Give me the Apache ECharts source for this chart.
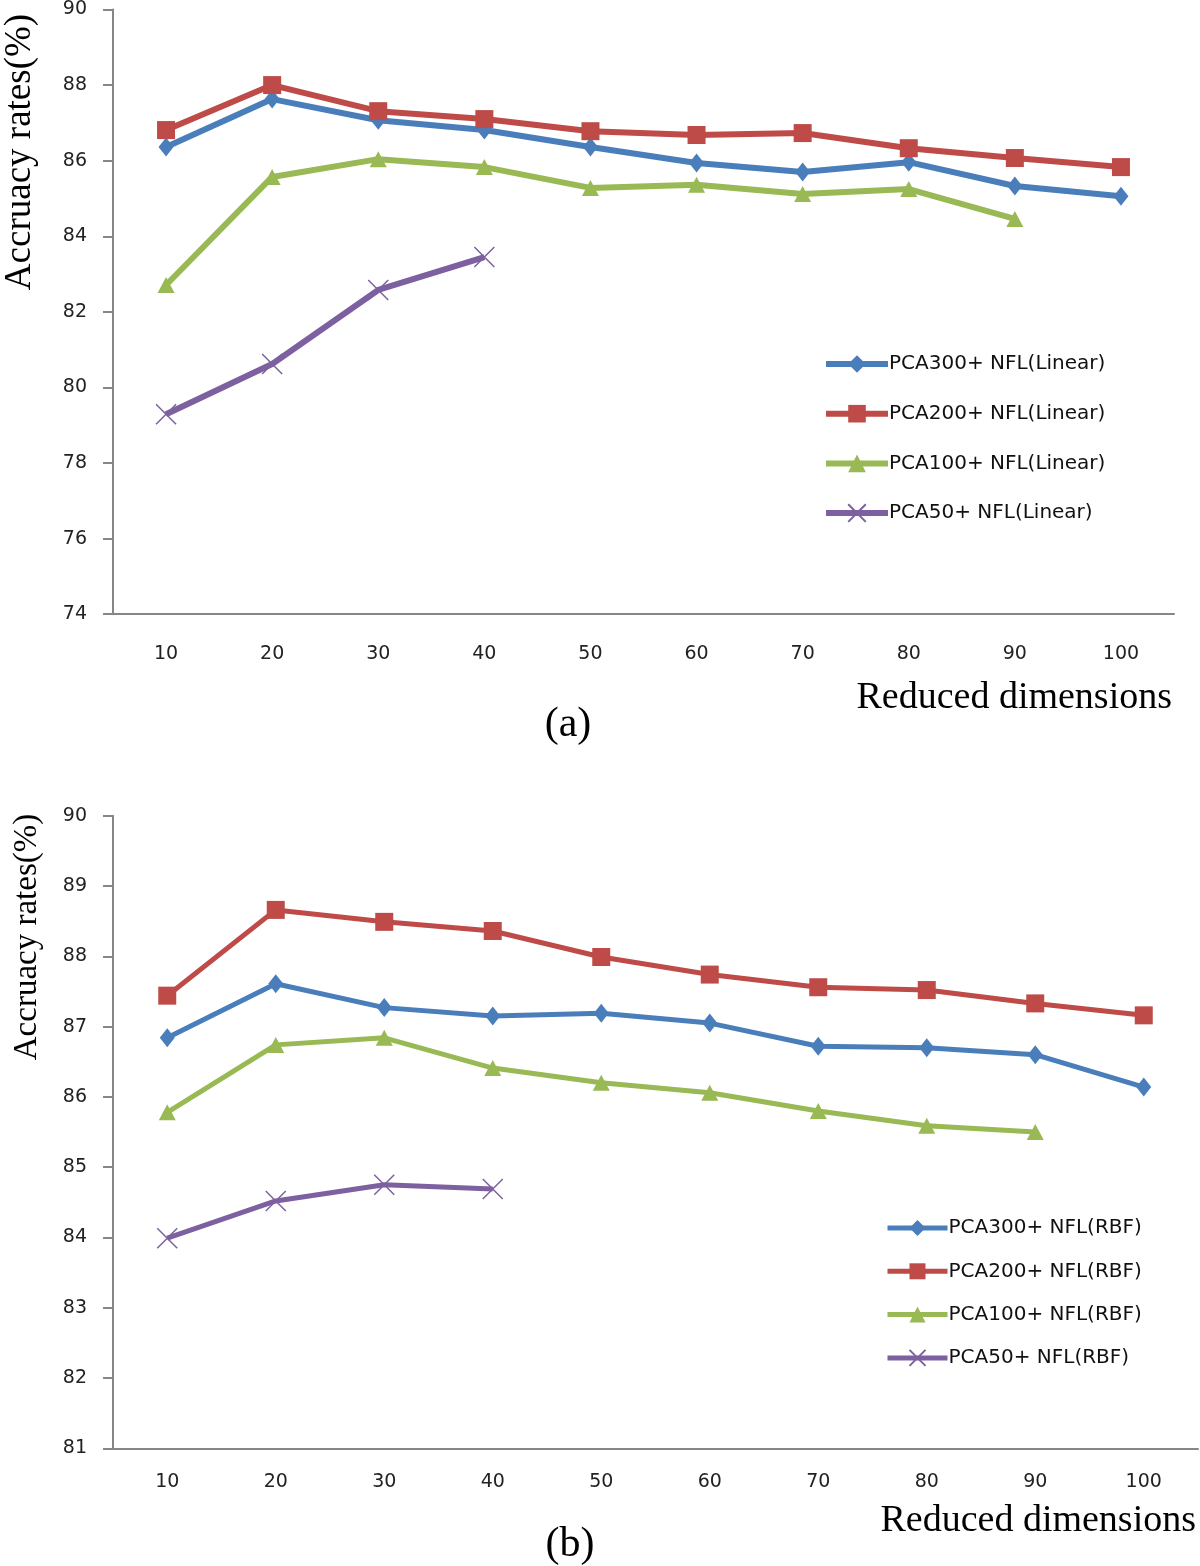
<!DOCTYPE html>
<html><head><meta charset="utf-8">
<script src="https://cdn.jsdelivr.net/npm/echarts@6/dist/echarts.min.js"></script>
<style>html,body{margin:0;padding:0;background:#fff}#c{width:1200px;height:1566px}</style>
</head><body><div id="c"></div>
<script>
const categories = ['10','20','30','40','50','60','70','80','90','100'];
const yTicksA = [74,76,78,80,82,84,86,88,90];
const yTicksB = [81,82,83,84,85,86,87,88,89,90];

const namesA = ['PCA300+ NFL(Linear)','PCA200+ NFL(Linear)','PCA100+ NFL(Linear)','PCA50+ NFL(Linear)'];
const namesB = ['PCA300+ NFL(RBF)','PCA200+ NFL(RBF)','PCA100+ NFL(RBF)','PCA50+ NFL(RBF)'];

const pca300Linear = [86.36,87.63,87.07,86.81,86.36,85.94,85.70,85.96,85.33,85.06];
const pca200Linear = [86.81,88.00,87.31,87.10,86.78,86.68,86.73,86.33,86.07,85.83];
const pca100Linear = [82.71,85.57,86.04,85.83,85.28,85.36,85.12,85.25,84.46,null];
const pca50Linear  = [79.29,80.62,82.58,83.45,null,null,null,null,null,null];

const pca300RBF = [86.84,87.61,87.27,87.15,87.19,87.05,86.72,86.70,86.60,86.14];
const pca200RBF = [87.44,88.66,88.49,88.36,87.99,87.74,87.56,87.52,87.33,87.16];
const pca100RBF = [85.78,86.74,86.84,86.41,86.20,86.06,85.80,85.59,85.50,null];
const pca50RBF  = [83.99,84.52,84.75,84.69,null,null,null,null,null,null];

const colors = ['#4a7ebb','#be4b48','#98b954','#7d60a0'];
const symbols = ['diamond','rect','triangle','path://M0,0 L10,10 M10,0 L0,10'];
const symSizes = [[15,19],18,[17,16],20];

const axisColor = '#868686';
const tickFont = {fontFamily:'DejaVu Sans', fontSize:19, color:'#222'};

function mkX(gi, margin){
  return {type:'category', gridIndex:gi, data:categories, boundaryGap:true,
    axisLine:{lineStyle:{color:axisColor,width:2}},
    axisTick:{length:9,lineStyle:{color:axisColor,width:2}},
    axisLabel:Object.assign({margin:margin},tickFont),
    splitLine:{show:false}};
}
function mkY(gi,min,max,interval){
  return {type:'value', gridIndex:gi, min:min, max:max, interval:interval,
    axisLine:{show:true,lineStyle:{color:axisColor,width:2}},
    axisTick:{show:true,length:10,lineStyle:{color:axisColor,width:2}},
    axisLabel:Object.assign({margin:26},tickFont),
    splitLine:{show:false}};
}
function mkSeries(names, datas, gi){
  return datas.map((d,i)=>({
    name:names[i], type:'line', xAxisIndex:gi, yAxisIndex:gi, data:d,
    symbol:symbols[i], symbolSize:symSizes[i], showAllSymbol:true,
    connectNulls:false,
    lineStyle:{color:colors[i], width: gi===0?6:5},
    itemStyle: i===3 ? {color:'rgba(0,0,0,0)', borderColor:colors[i], borderWidth:1.5} : {color:colors[i]},
    emphasis:{disabled:true}, animation:false
  }));
}

const chart = echarts.init(document.getElementById('c'), null, {renderer:'canvas'});
const serif = 'Liberation Serif';
chart.setOption({
  animation:false,
  backgroundColor:'#fff',
  grid:[
    {left:113, top:9.4, width:1061, height:604.8},
    {left:113, top:815.7, width:1085, height:632.7}
  ],
  xAxis:[mkX(0,30), mkX(1,24)],
  yAxis:[mkY(0,74,90,2), mkY(1,81,90,1)],
  legend:[
    {data:namesA, orient:'vertical', left:818, top:349, itemWidth:62, itemHeight:22, itemGap:29.7,
     lineStyle:{width:6},
     textStyle:{fontFamily:'DejaVu Sans', fontSize:20, color:'#111', padding:[0,0,0,-4]}, selectedMode:false},
    {data:namesB, orient:'vertical', left:880, top:1213, itemWidth:60, itemHeight:20, itemGap:23.3,
     lineStyle:{width:5},
     textStyle:{fontFamily:'DejaVu Sans', fontSize:20, color:'#111', padding:[0,0,0,-4]}, selectedMode:false}
  ],
  series:[].concat(
    mkSeries(namesA,[pca300Linear,pca200Linear,pca100Linear,pca50Linear],0),
    mkSeries(namesB,[pca300RBF,pca200RBF,pca100RBF,pca50RBF],1)
  ),
  graphic:[
    {type:'text', x:20, y:152, rotation:Math.PI/2, style:{text:'Accruacy rates(%)', font:'37px "'+serif+'"', fill:'#000', textAlign:'center', textVerticalAlign:'middle'}},
    {type:'text', x:27, y:937, rotation:Math.PI/2, style:{text:'Accruacy rates(%)', font:'33px "'+serif+'"', fill:'#000', textAlign:'center', textVerticalAlign:'middle'}},
    {type:'text', x:1172, y:698, style:{text:'Reduced dimensions', font:'38px "'+serif+'"', fill:'#000', textAlign:'right', textVerticalAlign:'middle'}},
    {type:'text', x:1196, y:1521, style:{text:'Reduced dimensions', font:'38px "'+serif+'"', fill:'#000', textAlign:'right', textVerticalAlign:'middle'}},
    {type:'text', x:568, y:725, style:{text:'(a)', font:'42px "'+serif+'"', fill:'#000', textAlign:'center', textVerticalAlign:'middle'}},
    {type:'text', x:570, y:1545, style:{text:'(b)', font:'42px "'+serif+'"', fill:'#000', textAlign:'center', textVerticalAlign:'middle'}}
  ]
});
</script>
</body></html>
